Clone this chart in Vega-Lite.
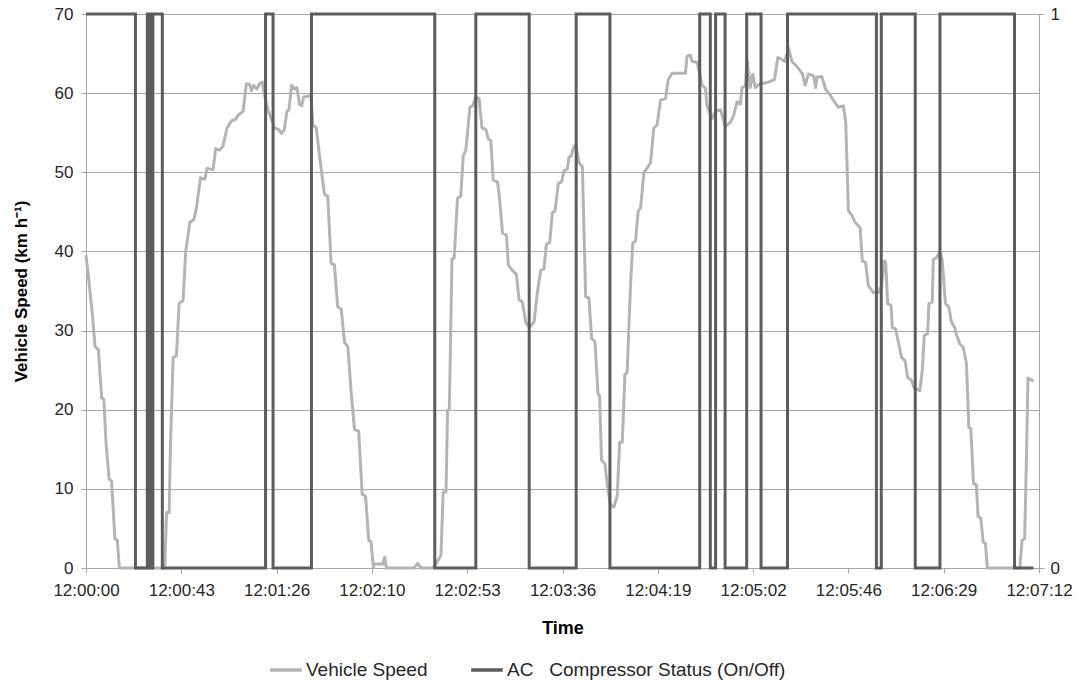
{
  "$schema": "https://vega.github.io/schema/vega-lite/v6.json",
  "width": 953,
  "height": 554,
  "autosize": {"type": "none"},
  "padding": {"left": 86, "top": 14, "right": 39, "bottom": 116},
  "background": "white",
  "config": {
    "font": "Liberation Sans",
    "view": {"stroke": null},
    "axis": {"labelColor": "#262626", "titleColor": "#000000", "domainColor": "#a6a6a6", "tickColor": "#a6a6a6", "gridColor": "#a6a6a6", "gridWidth": 1, "labelFontSize": 17, "titleFontSize": 18, "titleFontWeight": "bold", "tickSize": 5}
  },
  "datasets": {
    "speed": [
      {"t": 0, "speed": 39.5}, {"t": 1.0, "speed": 37.1}, {"t": 2.9, "speed": 32}, {"t": 4.1, "speed": 28}, {"t": 5.6, "speed": 27.6},
      {"t": 7.1, "speed": 21.5}, {"t": 8.1, "speed": 21.3}, {"t": 9.1, "speed": 15.7}, {"t": 10.5, "speed": 11.2}, {"t": 11.6, "speed": 11},
      {"t": 13.1, "speed": 3.7}, {"t": 14.2, "speed": 3.5}, {"t": 15.1, "speed": 0}, {"t": 35.7, "speed": 0}, {"t": 36.5, "speed": 7},
      {"t": 37.7, "speed": 7}, {"t": 38.3, "speed": 15.7}, {"t": 39.5, "speed": 26.6}, {"t": 41.0, "speed": 26.8}, {"t": 42.2, "speed": 33.4},
      {"t": 44.0, "speed": 33.8}, {"t": 45.2, "speed": 40}, {"t": 47.1, "speed": 43.7}, {"t": 48.9, "speed": 44}, {"t": 50.1, "speed": 45.6},
      {"t": 51.9, "speed": 49.3}, {"t": 53.8, "speed": 49.1}, {"t": 54.9, "speed": 50.5}, {"t": 57.6, "speed": 50.3}, {"t": 58.8, "speed": 53},
      {"t": 60.6, "speed": 52.8}, {"t": 62.1, "speed": 53.3}, {"t": 63.9, "speed": 55.6}, {"t": 65.9, "speed": 56.5}, {"t": 67.9, "speed": 56.7},
      {"t": 68.9, "speed": 57.2}, {"t": 71.2, "speed": 57.7}, {"t": 72.7, "speed": 61.2}, {"t": 74.2, "speed": 61.1}, {"t": 75.0, "speed": 60.3},
      {"t": 76.0, "speed": 61}, {"t": 77.4, "speed": 60.5}, {"t": 78.7, "speed": 61.2}, {"t": 79.9, "speed": 61.4}, {"t": 80.5, "speed": 60.3},
      {"t": 82.3, "speed": 58}, {"t": 85.5, "speed": 55.6}, {"t": 87.4, "speed": 55.4}, {"t": 88.5, "speed": 54.9}, {"t": 89.9, "speed": 55.4},
      {"t": 91.1, "speed": 57.7}, {"t": 92.0, "speed": 57.9}, {"t": 93.2, "speed": 61}, {"t": 94.5, "speed": 60.5}, {"t": 95.6, "speed": 60.7},
      {"t": 96.8, "speed": 58.6}, {"t": 97.8, "speed": 58.4}, {"t": 98.6, "speed": 59.5}, {"t": 100.6, "speed": 59.6}, {"t": 102.0, "speed": 59.8},
      {"t": 102.8, "speed": 56}, {"t": 103.6, "speed": 55.8}, {"t": 104.4, "speed": 55.6}, {"t": 105.9, "speed": 52}, {"t": 108.1, "speed": 47.2},
      {"t": 109.6, "speed": 47}, {"t": 111.1, "speed": 38.5}, {"t": 112.6, "speed": 38.3}, {"t": 114.1, "speed": 33}, {"t": 115.7, "speed": 32.7},
      {"t": 117.2, "speed": 28.5}, {"t": 118.7, "speed": 28}, {"t": 120.2, "speed": 22.2}, {"t": 121.7, "speed": 17.5}, {"t": 123.6, "speed": 17.3},
      {"t": 125.2, "speed": 9.3}, {"t": 126.7, "speed": 9.1}, {"t": 128.2, "speed": 3.5}, {"t": 129.2, "speed": 3.3}, {"t": 130.3, "speed": 0},
      {"t": 130.7, "speed": 0.5}, {"t": 134.5, "speed": 0.5}, {"t": 135.4, "speed": 1.4}, {"t": 136.2, "speed": 0}, {"t": 148.8, "speed": 0},
      {"t": 150.3, "speed": 0.6}, {"t": 151.9, "speed": 0}, {"t": 157.1, "speed": 0}, {"t": 158.6, "speed": 0.5}, {"t": 160.9, "speed": 1.6},
      {"t": 161.9, "speed": 9.6}, {"t": 163.2, "speed": 9.6}, {"t": 163.9, "speed": 19.9}, {"t": 164.7, "speed": 20}, {"t": 165.9, "speed": 39},
      {"t": 166.9, "speed": 39.2}, {"t": 168.4, "speed": 46.7}, {"t": 169.9, "speed": 47}, {"t": 171.0, "speed": 52.1}, {"t": 172.2, "speed": 52.8},
      {"t": 174.0, "speed": 58.2}, {"t": 175.2, "speed": 58.4}, {"t": 176.7, "speed": 59.5}, {"t": 178.2, "speed": 59.3}, {"t": 179.5, "speed": 55.6},
      {"t": 181.3, "speed": 55.4}, {"t": 182.4, "speed": 54.2}, {"t": 183.5, "speed": 54}, {"t": 184.6, "speed": 49}, {"t": 186.5, "speed": 48.8},
      {"t": 187.3, "speed": 47.2}, {"t": 188.8, "speed": 42.3}, {"t": 190.6, "speed": 42.1}, {"t": 191.4, "speed": 38.3}, {"t": 193.3, "speed": 37.6},
      {"t": 195.1, "speed": 37.1}, {"t": 196.3, "speed": 33.9}, {"t": 197.8, "speed": 33.6}, {"t": 199.4, "speed": 31}, {"t": 200.9, "speed": 30.4},
      {"t": 203.1, "speed": 31.1}, {"t": 204.6, "speed": 34.8}, {"t": 206.1, "speed": 37.6}, {"t": 207.6, "speed": 37.8}, {"t": 208.7, "speed": 40.9},
      {"t": 210.2, "speed": 41.1}, {"t": 211.4, "speed": 44.9}, {"t": 212.6, "speed": 45.1}, {"t": 214.1, "speed": 48.6}, {"t": 215.6, "speed": 48.8},
      {"t": 216.7, "speed": 50.2}, {"t": 218.2, "speed": 50.4}, {"t": 218.9, "speed": 51.9}, {"t": 220.0, "speed": 52.1}, {"t": 220.8, "speed": 53},
      {"t": 222.0, "speed": 53.5}, {"t": 223.5, "speed": 51.2}, {"t": 225.0, "speed": 50.7}, {"t": 226.5, "speed": 34.3}, {"t": 228.0, "speed": 34.1},
      {"t": 229.2, "speed": 29}, {"t": 230.7, "speed": 28.6}, {"t": 232.1, "speed": 22}, {"t": 232.8, "speed": 21.8}, {"t": 233.7, "speed": 13.6},
      {"t": 235.2, "speed": 13.2}, {"t": 236.3, "speed": 10.5}, {"t": 237.8, "speed": 7.9}, {"t": 239.3, "speed": 7.7}, {"t": 240.8, "speed": 9.1},
      {"t": 241.9, "speed": 15.9}, {"t": 243.1, "speed": 15.9}, {"t": 244.3, "speed": 24.5}, {"t": 245.3, "speed": 24.7}, {"t": 246.9, "speed": 36.2},
      {"t": 247.9, "speed": 41.1}, {"t": 249.1, "speed": 41.3}, {"t": 250.3, "speed": 45.1}, {"t": 251.4, "speed": 45.5}, {"t": 252.9, "speed": 50},
      {"t": 254.4, "speed": 50.5}, {"t": 255.9, "speed": 51.2}, {"t": 257.4, "speed": 55.6}, {"t": 258.9, "speed": 56}, {"t": 260.4, "speed": 59.1},
      {"t": 262.7, "speed": 59.3}, {"t": 263.9, "speed": 61.7}, {"t": 265.7, "speed": 62.5}, {"t": 271.7, "speed": 62.5}, {"t": 272.5, "speed": 64.7},
      {"t": 274.0, "speed": 64.8}, {"t": 274.7, "speed": 64}, {"t": 277.0, "speed": 63.9}, {"t": 279.3, "speed": 61}, {"t": 280.8, "speed": 60.6},
      {"t": 281.5, "speed": 58.4}, {"t": 283.8, "speed": 56.8}, {"t": 285.3, "speed": 57.7}, {"t": 287.6, "speed": 57.9}, {"t": 289.8, "speed": 55.8},
      {"t": 292.1, "speed": 56.3}, {"t": 293.6, "speed": 57.2}, {"t": 295.1, "speed": 58.9}, {"t": 296.6, "speed": 58.6}, {"t": 297.4, "speed": 60.7},
      {"t": 298.9, "speed": 60.9}, {"t": 299.6, "speed": 64.2}, {"t": 301.1, "speed": 60.7}, {"t": 302.2, "speed": 62.4}, {"t": 303.4, "speed": 60.7},
      {"t": 304.9, "speed": 61.1}, {"t": 309.4, "speed": 61.4}, {"t": 312.1, "speed": 61.7}, {"t": 313.6, "speed": 64.5}, {"t": 315.2, "speed": 64.3},
      {"t": 316.7, "speed": 64}, {"t": 318.5, "speed": 65.7}, {"t": 320.0, "speed": 64}, {"t": 321.8, "speed": 63.5}, {"t": 323.0, "speed": 63.1},
      {"t": 324.8, "speed": 62.4}, {"t": 326.0, "speed": 61}, {"t": 327.5, "speed": 62.4}, {"t": 329.8, "speed": 62.2}, {"t": 330.8, "speed": 60.7},
      {"t": 331.3, "speed": 62}, {"t": 333.5, "speed": 62.1}, {"t": 335.3, "speed": 60.5}, {"t": 337.3, "speed": 59.8}, {"t": 338.8, "speed": 59.1},
      {"t": 341.1, "speed": 58.2}, {"t": 343.3, "speed": 58.4}, {"t": 344.4, "speed": 56.3}, {"t": 345.6, "speed": 45.1}, {"t": 347.1, "speed": 44.6},
      {"t": 348.6, "speed": 43.7}, {"t": 350.9, "speed": 43}, {"t": 351.9, "speed": 38.8}, {"t": 353.4, "speed": 38.6}, {"t": 354.6, "speed": 35.7},
      {"t": 356.9, "speed": 34.8}, {"t": 359.1, "speed": 34.8}, {"t": 360.5, "speed": 35.5}, {"t": 361.9, "speed": 38.8}, {"t": 362.5, "speed": 38.6},
      {"t": 363.4, "speed": 33.4}, {"t": 364.9, "speed": 33.2}, {"t": 365.5, "speed": 30.4}, {"t": 367.0, "speed": 30.2}, {"t": 367.9, "speed": 29},
      {"t": 369.7, "speed": 26.6}, {"t": 371.3, "speed": 26.2}, {"t": 372.4, "speed": 24.1}, {"t": 374.2, "speed": 23.7}, {"t": 375.5, "speed": 22.7},
      {"t": 378.0, "speed": 22.4}, {"t": 379.1, "speed": 25}, {"t": 380.0, "speed": 29.4}, {"t": 381.5, "speed": 29.6}, {"t": 382.1, "speed": 33.4},
      {"t": 383.6, "speed": 33.6}, {"t": 384.1, "speed": 39}, {"t": 385.5, "speed": 39.2}, {"t": 387.1, "speed": 40}, {"t": 388.1, "speed": 39},
      {"t": 389.6, "speed": 33.4}, {"t": 391.1, "speed": 33}, {"t": 392.3, "speed": 31.1}, {"t": 393.8, "speed": 30.4}, {"t": 394.7, "speed": 29.4},
      {"t": 396.1, "speed": 28.3}, {"t": 397.6, "speed": 27.9}, {"t": 399.1, "speed": 25.9}, {"t": 400.2, "speed": 17.8}, {"t": 401.1, "speed": 17.6},
      {"t": 402.3, "speed": 10.7}, {"t": 403.6, "speed": 10.5}, {"t": 404.4, "speed": 6.5}, {"t": 405.6, "speed": 6.3}, {"t": 406.7, "speed": 3.3},
      {"t": 407.7, "speed": 3.1}, {"t": 408.6, "speed": 0}, {"t": 423.3, "speed": 0}, {"t": 424.3, "speed": 3.5}, {"t": 425.5, "speed": 3.7},
      {"t": 426.4, "speed": 15.2}, {"t": 427.0, "speed": 24}, {"t": 429.5, "speed": 23.6}
    ],
    "ac": [
      {"t": 0, "status": 1}, {"t": 22.4, "status": 0}, {"t": 27.8, "status": 1}, {"t": 29.0, "status": 0}, {"t": 30.3, "status": 1},
      {"t": 34.6, "status": 0}, {"t": 81.4, "status": 1}, {"t": 84.8, "status": 0}, {"t": 102.2, "status": 1}, {"t": 158.1, "status": 0},
      {"t": 176.7, "status": 1}, {"t": 200.9, "status": 0}, {"t": 222.2, "status": 1}, {"t": 237.5, "status": 0}, {"t": 278.2, "status": 1},
      {"t": 283.0, "status": 0}, {"t": 285.4, "status": 1}, {"t": 289.7, "status": 0}, {"t": 299.5, "status": 1}, {"t": 306.0, "status": 0},
      {"t": 318.0, "status": 1}, {"t": 358.3, "status": 0}, {"t": 360.5, "status": 1}, {"t": 375.9, "status": 0}, {"t": 387.1, "status": 1},
      {"t": 420.9, "status": 0}, {"t": 429.5, "status": 0}
    ]
  },
  "layer": [
    {
      "data": {"name": "speed"},
      "mark": {"type": "line", "strokeWidth": 3, "strokeJoin": "round"},
      "encoding": {
        "x": {
          "field": "t", "type": "quantitative",
          "scale": {"domain": [0, 432], "nice": false, "zero": false},
          "axis": {"title": "Time", "values": [0, 43.2, 86.4, 129.6, 172.8, 216, 259.2, 302.4, 345.6, 388.8, 432], "labelExpr": "timeFormat(datetime(2000, 0, 1, 12, 0, round(datum.value)), '%H:%M:%S')", "grid": false, "labelPadding": 9, "titlePadding": 21, "labelFlush": false, "labelOverlap": false}
        },
        "y": {
          "field": "speed", "type": "quantitative",
          "scale": {"domain": [0, 70], "nice": false},
          "axis": {"title": "Vehicle Speed (km h⁻¹)", "values": [0, 10, 20, 30, 40, 50, 60, 70], "grid": true, "titleFontSize": 17, "labelPadding": 8, "titlePadding": 24}
        },
        "color": {
          "datum": "Vehicle Speed", "type": "nominal",
          "scale": {"domain": ["Vehicle Speed", "AC\u00a0\u00a0 Compressor Status (On/Off)"], "range": ["#b4b4b4", "#5c5c5c"]},
          "legend": {"title": null, "orient": "none", "direction": "horizontal", "legendX": 182, "legendY": 638, "symbolType": "stroke", "symbolSize": 1000, "symbolStrokeWidth": 3.5, "labelFontSize": 19, "labelLimit": 500, "labelColor": "#262626", "columnPadding": 36, "labelOffset": 2}
        }
      }
    },
    {
      "data": {"name": "ac"},
      "mark": {"type": "line", "strokeWidth": 3, "interpolate": "step-after"},
      "encoding": {
        "x": {"field": "t", "type": "quantitative"},
        "y": {
          "field": "status", "type": "quantitative",
          "scale": {"domain": [0, 1], "nice": false},
          "axis": {"orient": "right", "title": null, "values": [0, 1], "format": "d", "grid": false, "labelPadding": 6}
        },
        "color": {"datum": "AC\u00a0\u00a0 Compressor Status (On/Off)", "type": "nominal"}
      }
    }
  ],
  "resolve": {"scale": {"y": "independent"}}
}
